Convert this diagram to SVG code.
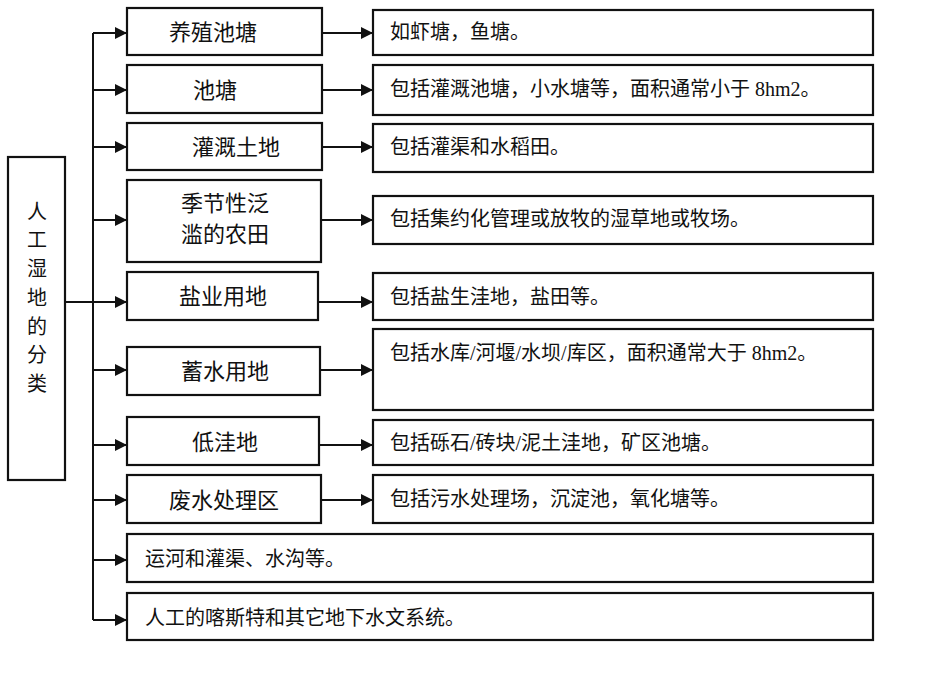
<svg xmlns="http://www.w3.org/2000/svg" width="942" height="676" viewBox="0 0 942 676">
<style>
.box{fill:#fff;stroke:#111;stroke-width:2.2}
.ln{fill:none;stroke:#111;stroke-width:2}
text{font-family:"Liberation Serif","Noto Sans CJK SC",serif;fill:#111}
.m{font-size:22px;text-anchor:middle;dominant-baseline:central}
.r{font-size:20px;dominant-baseline:central}
.v{font-size:20px;text-anchor:middle;dominant-baseline:central}
</style>
<defs>
<marker id="ah" viewBox="0 0 12 12" refX="12" refY="6" markerWidth="12" markerHeight="12" markerUnits="userSpaceOnUse" orient="auto">
<path d="M0,0 L12,6 L0,12 Z" fill="#111"/>
</marker>
</defs>
<rect width="942" height="676" fill="#fff"/>
<g id="connectors">
<path class="ln" d="M93,33 V620"/>
<path class="ln" d="M65,302 H93"/>
<path class="ln" d="M93,33 H127" marker-end="url(#ah)"/>
<path class="ln" d="M93,90 H127" marker-end="url(#ah)"/>
<path class="ln" d="M93,147 H127" marker-end="url(#ah)"/>
<path class="ln" d="M93,220 H127" marker-end="url(#ah)"/>
<path class="ln" d="M93,302 H127" marker-end="url(#ah)"/>
<path class="ln" d="M93,370 H127" marker-end="url(#ah)"/>
<path class="ln" d="M93,445 H127" marker-end="url(#ah)"/>
<path class="ln" d="M93,500 H127" marker-end="url(#ah)"/>
<path class="ln" d="M93,560 H127" marker-end="url(#ah)"/>
<path class="ln" d="M93,620 H127" marker-end="url(#ah)"/>
<path class="ln" d="M322,33 H373" marker-end="url(#ah)"/>
<path class="ln" d="M322,90 H373" marker-end="url(#ah)"/>
<path class="ln" d="M322,147 H373" marker-end="url(#ah)"/>
<path class="ln" d="M322,220 H373" marker-end="url(#ah)"/>
<path class="ln" d="M318,302 H373" marker-end="url(#ah)"/>
<path class="ln" d="M320,370 H373" marker-end="url(#ah)"/>
<path class="ln" d="M319,445 H373" marker-end="url(#ah)"/>
<path class="ln" d="M321,500 H373" marker-end="url(#ah)"/>
</g>
<g id="root">
<rect class="box" x="8" y="157" width="57" height="323"/>
<text class="v" x="37" y="212">人</text>
<text class="v" x="37" y="240">工</text>
<text class="v" x="37" y="269">湿</text>
<text class="v" x="37" y="298">地</text>
<text class="v" x="37" y="327">的</text>
<text class="v" x="37" y="355">分</text>
<text class="v" x="37" y="384">类</text>
</g>
<g id="n1"><rect class="box" x="127" y="8" width="195" height="47"/><text class="m" x="213" y="32">养殖池塘</text></g>
<g id="n2"><rect class="box" x="127" y="65" width="195" height="48"/><text class="m" x="215" y="90">池塘</text></g>
<g id="n3"><rect class="box" x="127" y="123" width="195" height="47"/><text class="m" x="236" y="147">灌溉土地</text></g>
<g id="n4"><rect class="box" x="127" y="180" width="194" height="82"/><text class="m" x="225" y="203">季节性泛</text><text class="m" x="225" y="234">滥的农田</text></g>
<g id="n5"><rect class="box" x="127" y="272" width="191" height="48"/><text class="m" x="223" y="296">盐业用地</text></g>
<g id="n6"><rect class="box" x="127" y="347" width="193" height="48"/><text class="m" x="225" y="371">蓄水用地</text></g>
<g id="n7"><rect class="box" x="127" y="417" width="192" height="48"/><text class="m" x="225" y="442">低洼地</text></g>
<g id="n8"><rect class="box" x="127" y="475" width="194" height="48"/><text class="m" x="224" y="500">废水处理区</text></g>
<g id="n9"><rect class="box" x="127" y="534" width="746" height="48"/><text class="r" x="145" y="559">运河和灌渠、水沟等。</text></g>
<g id="n10"><rect class="box" x="127" y="593" width="746" height="47"/><text class="r" x="145" y="618">人工的喀斯特和其它地下水文系统。</text></g>
<g id="d1"><rect class="box" x="373" y="10" width="500" height="45"/><text class="r" x="390" y="32">如虾塘，鱼塘。</text></g>
<g id="d2"><rect class="box" x="373" y="65" width="500" height="50"/><text class="r" x="390" y="89">包括灌溉池塘，小水塘等，面积通常小于 8hm2。</text></g>
<g id="d3"><rect class="box" x="373" y="124" width="500" height="48"/><text class="r" x="390" y="147">包括灌渠和水稻田。</text></g>
<g id="d4"><rect class="box" x="373" y="196" width="500" height="48"/><text class="r" x="390" y="219">包括集约化管理或放牧的湿草地或牧场。</text></g>
<g id="d5"><rect class="box" x="373" y="273" width="500" height="47"/><text class="r" x="390" y="297">包括盐生洼地，盐田等。</text></g>
<g id="d6"><rect class="box" x="373" y="329" width="500" height="81"/><text class="r" x="390" y="353">包括水库/河堰/水坝/库区，面积通常大于 8hm2。</text></g>
<g id="d7"><rect class="box" x="373" y="420" width="500" height="45"/><text class="r" x="390" y="443">包括砾石/砖块/泥土洼地，矿区池塘。</text></g>
<g id="d8"><rect class="box" x="373" y="475" width="500" height="48"/><text class="r" x="390" y="499">包括污水处理场，沉淀池，氧化塘等。</text></g>
</svg>
